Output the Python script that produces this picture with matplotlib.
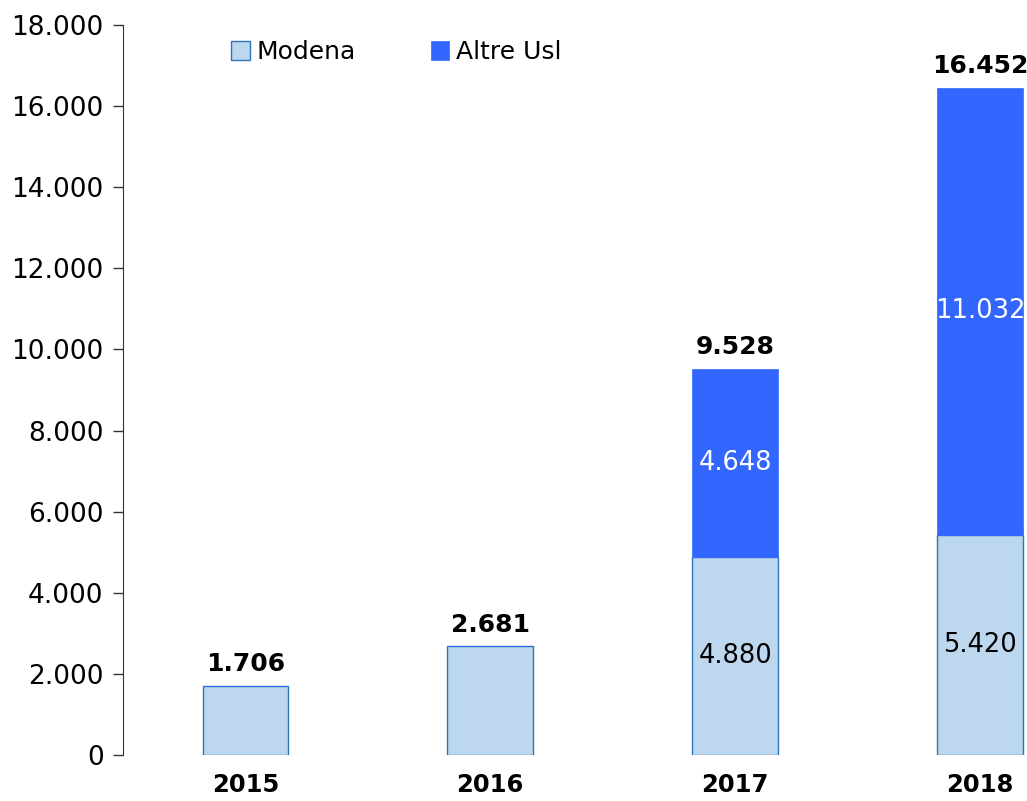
import matplotlib
matplotlib.use("Agg")
import matplotlib.pyplot as plt
from matplotlib.ticker import FuncFormatter
import numpy as np

# data
years = ["2015", "2016", "2017", "2018"]
modena = [1706, 2681, 4880, 5420]
altre_usl = [0, 0, 4648, 11032]
totals = [1706, 2681, 9528, 16452]

light = "#BDD7EE"
light_edge = "#2E75B6"
dark = "#3366FF"

plt.rcParams["font.family"] = "DejaVu Sans"

fig = plt.figure(figsize=(10.27, 8.01), dpi=100)
ax = fig.add_axes([123 / 1027, 1 - 755 / 801, 1 - 123 / 1027, (755 - 25) / 801])

x = np.arange(len(years))
w = 0.35
ax.bar(x, modena, w, color=light, edgecolor=light_edge, linewidth=1, label="Modena")
ax.bar(x, altre_usl, w, bottom=modena, color=dark, edgecolor=dark, linewidth=0.5, label="Altre Usl")

def fmt(v):
    return f"{int(v):,}".replace(",", ".")

# labels inside the segments and totals on top
for i in range(len(years)):
    if altre_usl[i] > 0:
        ax.text(x[i], modena[i] / 2, fmt(modena[i]),
                ha="center", va="center", fontsize=18.5, color="black")
        ax.text(x[i], modena[i] + altre_usl[i] / 2, fmt(altre_usl[i]),
                ha="center", va="center", fontsize=18.5, color="white")
    ax.annotate(fmt(totals[i]), (x[i], totals[i]),
                xytext=(0, 7), textcoords="offset points",
                ha="center", va="bottom", fontsize=18, fontweight="bold")

ax.set_xlim(-0.5, 3 + 47 / 245)
ax.set_ylim(0, 18000)
ax.set_yticks(range(0, 18001, 2000))
ax.yaxis.set_major_formatter(FuncFormatter(lambda v, p: fmt(v)))
ax.tick_params(axis="y", labelsize=19, length=7, width=1, color="#333333", pad=7)
ax.set_xticks(x)
ax.set_xticklabels(years, fontsize=17.5, fontweight="bold")
ax.tick_params(axis="x", length=0, pad=13)

for s in ["top", "right", "bottom"]:
    ax.spines[s].set_visible(False)
ax.spines["left"].set_color("#333333")

ax.legend(loc="upper left", bbox_to_anchor=(0.095, 1.01), ncol=2, frameon=False,
          fontsize=18, handlelength=0.75, handleheight=0.75, handletextpad=0.25,
          columnspacing=3.0)

fig.savefig("out.png", dpi=100)
